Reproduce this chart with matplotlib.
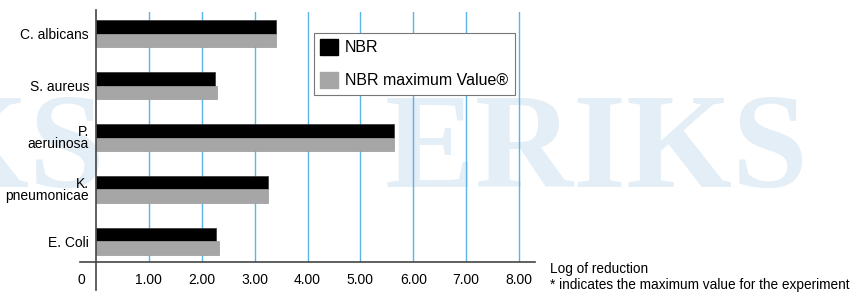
import numpy as np
import matplotlib
matplotlib.use('Agg')
import matplotlib.pyplot as plt
from matplotlib.patches import Patch

# Data
organisms = ['C. albicans', 'S. aureus', 'P.\naeruinosa', 'K.\npneumonicae', 'E. Coli']
nbr = [3.40, 2.25, 5.63, 3.25, 2.27]
nbr_max = [3.40, 2.29, 5.63, 3.25, 2.33]
tick_vals = [1, 2, 3, 4, 5, 6, 7, 8]
tick_labels = ['1.00', '2.00', '3.00', '4.00', '5.00', '6.00', '7.00', '8.00']

plt.rcParams['font.family'] = ['Liberation Sans', 'DejaVu Sans']

fig = plt.figure(figsize=(8.6, 2.93), dpi=100)

# faint background watermark
wm_color = '#e3eef7'
fig.text(385 / 860, 1 - 187 / 293, 'ERIKS', fontsize=98, fontweight='bold',
         family='Liberation Serif', color=wm_color, ha='left', va='baseline', zorder=-1)
fig.text(105 / 860, 1 - 187 / 293, 'ERIKS', fontsize=98, fontweight='bold',
         family='Liberation Serif', color=wm_color, ha='right', va='baseline', zorder=-1)

ax = fig.add_axes([80 / 860, 31 / 293, 455 / 860, 250 / 293])
ax.patch.set_alpha(0)

y = np.arange(len(organisms))
h = 0.26
ax.barh(y - h / 2, nbr, height=h, color='black', edgecolor='#333333', linewidth=0.5, zorder=3)
ax.barh(y + h / 2, nbr_max, height=h, color='#a6a6a6', edgecolor='#999999', linewidth=0.5, zorder=3)

ax.set_xlim(-0.3, 8.3)
ax.set_ylim(len(organisms) - 0.6, -0.42)

for v in tick_vals:
    ax.axvline(v, color='#5ab4e6', linewidth=1.0, zorder=1)

# vertical axis line running past the bottom
ax.axvline(0, ymin=-0.11, ymax=1.01, color='#444444', linewidth=1.2, clip_on=False, zorder=4)

for s in ['top', 'right', 'left']:
    ax.spines[s].set_visible(False)
ax.spines['bottom'].set_color('#444444')
ax.spines['bottom'].set_linewidth(1.2)

ax.set_xticks(tick_vals)
ax.set_xticklabels(tick_labels, fontsize=10)
ax.set_yticks(y)
ax.set_yticklabels(organisms, fontsize=10, linespacing=0.8)
ax.tick_params(axis='both', length=0)
ax.tick_params(axis='x', pad=8)
ax.tick_params(axis='y', pad=-6.5)
ax.text(-0.27, -0.045, '0', transform=ax.get_xaxis_transform(), fontsize=10,
        ha='center', va='top')

handles = [Patch(facecolor='black', edgecolor='black'),
           Patch(facecolor='#a6a6a6', edgecolor='#a6a6a6')]
leg = ax.legend(handles, ['NBR', 'NBR maximum Value®'], loc='upper left',
                bbox_to_anchor=(0.514, 0.916), borderaxespad=0, fontsize=11.5,
                fancybox=False, framealpha=1, edgecolor='#777777',
                handlelength=1.1, handleheight=1.1, labelspacing=1.05,
                borderpad=0.4, handletextpad=0.45)
leg.get_frame().set_linewidth(0.8)

fig.text(550 / 860, 1 - 269 / 293, 'Log of reduction', fontsize=9.8, va='center')
fig.text(550 / 860, 1 - 285 / 293, '* indicates the maximum value for the experiment',
         fontsize=9.8, va='center')

fig.savefig('out.png', dpi=100)
